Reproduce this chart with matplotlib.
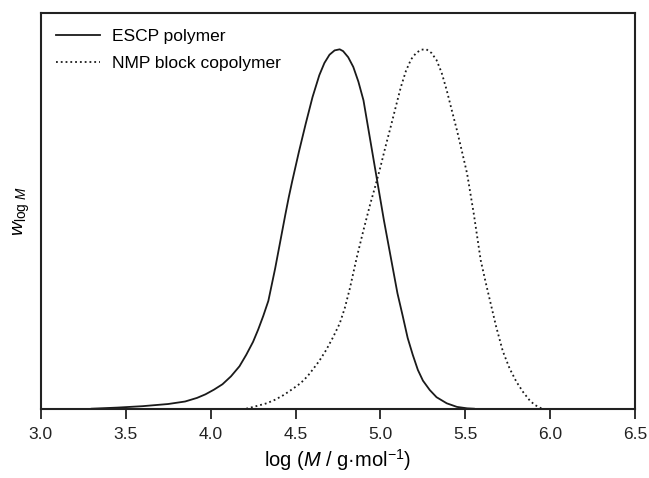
import matplotlib
matplotlib.use("Agg")
import matplotlib.pyplot as plt

plt.rcParams['font.family'] = ['Liberation Sans', 'DejaVu Sans']
plt.rcParams['mathtext.fontset'] = 'custom'
plt.rcParams['mathtext.rm'] = 'Liberation Sans'
plt.rcParams['mathtext.it'] = 'Liberation Sans:italic'

# curva ESCP
escp_x = [3.30, 3.45, 3.60, 3.75, 3.85, 3.92, 3.97, 4.02, 4.07, 4.12, 4.17, 4.21,
          4.25, 4.28, 4.31, 4.34, 4.36, 4.38, 4.40, 4.42, 4.44, 4.46, 4.48, 4.52,
          4.56, 4.60, 4.64, 4.67, 4.70, 4.73, 4.76, 4.78, 4.81, 4.84, 4.87, 4.90,
          4.94, 4.98, 5.02, 5.06, 5.10, 5.13, 5.16, 5.19, 5.22, 5.25, 5.29, 5.33,
          5.39, 5.45, 5.51, 5.55]
escp_y = [0.0, 0.003, 0.007, 0.013, 0.020, 0.030, 0.040, 0.053, 0.068, 0.090, 0.118, 0.150,
          0.186, 0.22, 0.258, 0.30, 0.345, 0.39, 0.44, 0.49, 0.54, 0.588, 0.632, 0.715,
          0.793, 0.867, 0.928, 0.962, 0.985, 0.997, 1.0, 0.995, 0.978, 0.951, 0.91, 0.858,
          0.747, 0.636, 0.525, 0.423, 0.321, 0.26, 0.197, 0.15, 0.108, 0.078, 0.052, 0.032,
          0.015, 0.005, 0.001, 0.0]

# curva NMP copolimero em bloco
nmp_x = [4.21, 4.26, 4.33, 4.38, 4.43, 4.48, 4.53, 4.57, 4.60, 4.64, 4.68, 4.72,
         4.76, 4.79, 4.82, 4.86, 4.90, 4.94, 4.97, 5.00, 5.03, 5.06, 5.09, 5.12,
         5.15, 5.18, 5.21, 5.24, 5.27, 5.30, 5.33, 5.36, 5.39, 5.42, 5.45, 5.48,
         5.51, 5.55, 5.59, 5.62, 5.65, 5.68, 5.72, 5.76, 5.80, 5.84, 5.88, 5.91, 5.95]
nmp_y = [0.0, 0.006, 0.015, 0.025, 0.038, 0.054, 0.071, 0.09, 0.108, 0.133, 0.163, 0.198,
         0.237, 0.28, 0.335, 0.42, 0.497, 0.57, 0.62, 0.673, 0.73, 0.784, 0.84, 0.895,
         0.94, 0.972, 0.99, 0.999, 1.0, 0.99, 0.97, 0.935, 0.886, 0.83, 0.775, 0.715,
         0.654, 0.54, 0.413, 0.35, 0.29, 0.23, 0.16, 0.112, 0.075, 0.046, 0.022, 0.01, 0.0]

xticks = [3.0, 3.5, 4.0, 4.5, 5.0, 5.5, 6.0, 6.5]
labels = ['ESCP polymer', 'NMP block copolymer']

fig = plt.figure(figsize=(6.49, 4.78), dpi=100)
ax = fig.add_axes([0.0627, 0.145, 0.9162, 0.827])

ax.plot(escp_x, escp_y, '-', color='#1a1a1a', lw=1.3, label=labels[0])
ax.plot(nmp_x, nmp_y, ':', color='#1a1a1a', lw=1.3, label=labels[1])

ax.set_xlim(3.0, 6.5)
ax.set_ylim(0, 1.1)
ax.set_xticks(xticks)
ax.set_xticklabels([f'{t:.1f}' for t in xticks], fontsize=12.5)
ax.set_yticks([])
ax.tick_params(axis='x', direction='out', length=7, width=1.3, pad=6, colors='#222222')
for s in ax.spines.values():
    s.set_linewidth(1.5)
    s.set_color('#222222')

ax.set_xlabel('log ($M$ / g\u00b7mol$^{\u22121}$)', fontsize=14.5, labelpad=4)
ax.set_ylabel(r'$w_{\mathrm{log}\ M}$', fontsize=14, labelpad=6)

ax.legend(loc='upper left', frameon=False, fontsize=12.5, handlelength=2.5,
          handletextpad=0.7, labelspacing=0.7, borderaxespad=0.5)

fig.savefig('out.png', dpi=100)
